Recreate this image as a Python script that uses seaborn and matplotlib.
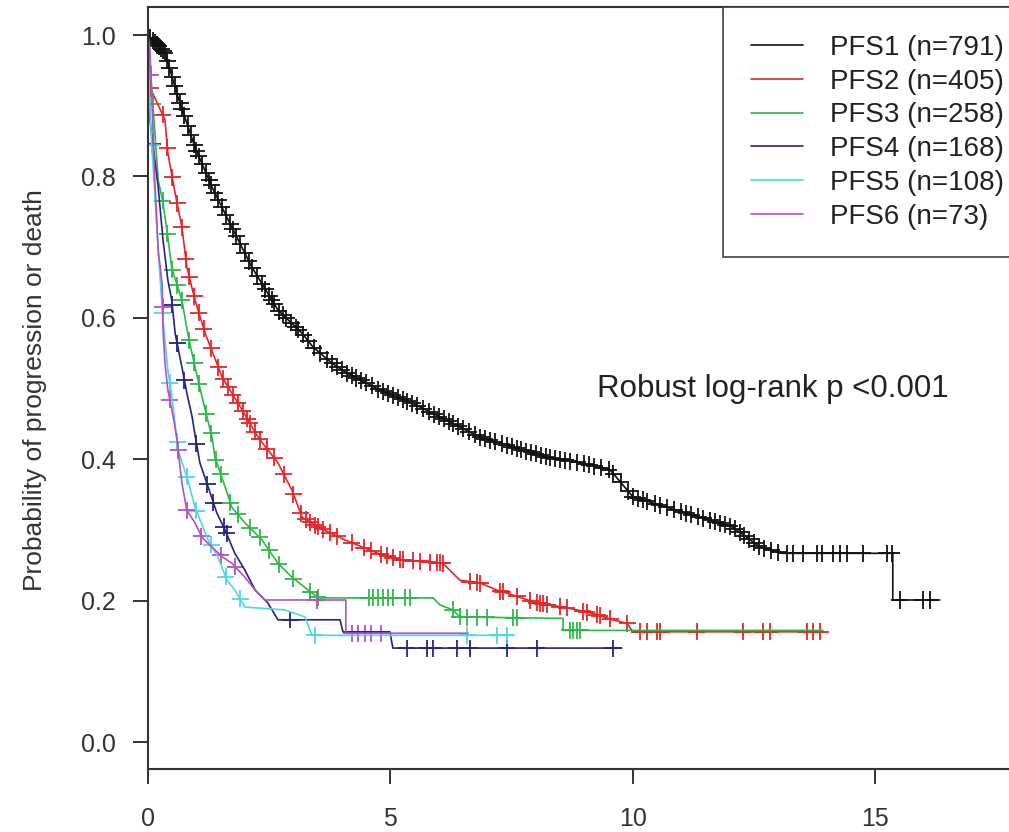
import numpy as np
import pandas as pd
import matplotlib
matplotlib.use("Agg")
import matplotlib.pyplot as plt
import seaborn as sns
from matplotlib.lines import Line2D

# ---------------- data ----------------
labels = ["PFS1 (n=791)", "PFS2 (n=405)", "PFS3 (n=258)",
          "PFS4 (n=168)", "PFS5 (n=108)", "PFS6 (n=73)"]
colors = ["#111111", "#e3262b", "#2db84a", "#25257f", "#4dd6e6", "#b54fc8"]

pfs1_t = [0, 0.35, 0.62, 0.97, 1.32, 1.73, 2.14, 2.68, 3.18, 3.40, 3.79, 4.10, 4.78,
          5.46, 6.16, 6.85, 7.53, 8.23, 8.91, 9.53, 10.0, 10.70, 11.38, 12.06, 12.62,
          13.09, 15.36, 15.36, 16.33]
pfs1_s = [1.0, 0.975, 0.912, 0.841, 0.785, 0.728, 0.672, 0.611, 0.578, 0.559, 0.536,
          0.522, 0.498, 0.479, 0.455, 0.431, 0.417, 0.403, 0.395, 0.385, 0.347, 0.332,
          0.318, 0.304, 0.276, 0.267, 0.267, 0.201, 0.201]

pfs2_t = [0, 0.04, 0.35, 0.41, 0.56, 0.70, 0.80, 0.97, 1.18, 1.53, 1.94, 2.27, 2.68,
          2.97, 3.18, 3.51, 4.06, 4.74, 5.20, 6.08, 6.43, 6.85, 7.20, 8.02, 8.64, 9.18,
          9.59, 9.88, 10.0, 13.92]
pfs2_s = [1.0, 0.926, 0.880, 0.833, 0.776, 0.728, 0.672, 0.625, 0.578, 0.516, 0.470,
          0.431, 0.395, 0.356, 0.318, 0.304, 0.286, 0.267, 0.258, 0.253, 0.229, 0.225,
          0.215, 0.197, 0.190, 0.182, 0.173, 0.168, 0.156, 0.156]

pfs3_t = [0, 0.21, 0.31, 0.41, 0.49, 0.70, 0.82, 0.97, 1.13, 1.32, 1.38, 1.59, 1.73,
          2.0, 2.35, 2.68, 2.97, 3.38, 3.51, 5.88, 6.02, 6.29, 6.43, 8.56, 8.56, 13.92]
pfs3_s = [1.0, 0.795, 0.762, 0.714, 0.670, 0.625, 0.578, 0.530, 0.484, 0.431, 0.403,
          0.361, 0.332, 0.310, 0.286, 0.253, 0.233, 0.211, 0.204, 0.204, 0.194, 0.187,
          0.177, 0.175, 0.158, 0.158]

pfs4_t = [0, 0.04, 0.21, 0.31, 0.41, 0.49, 0.56, 0.70, 0.80, 0.91, 0.97, 1.07, 1.24,
          1.42, 1.59, 1.79, 2.0, 2.21, 2.47, 2.68, 3.96, 4.02, 4.99, 5.05, 9.77]
pfs4_s = [1.0, 0.880, 0.785, 0.710, 0.653, 0.625, 0.578, 0.530, 0.494, 0.460, 0.434,
          0.395, 0.361, 0.324, 0.300, 0.267, 0.243, 0.215, 0.197, 0.173, 0.173, 0.156,
          0.156, 0.133, 0.133]

pfs5_t = [0, 0.04, 0.21, 0.31, 0.41, 0.49, 0.62, 0.82, 0.97, 1.24, 1.44, 1.63, 1.79,
          2.0, 2.82, 3.24, 3.38, 7.53]
pfs5_s = [1.0, 0.890, 0.696, 0.597, 0.526, 0.491, 0.413, 0.371, 0.332, 0.286, 0.262,
          0.229, 0.215, 0.191, 0.187, 0.177, 0.151, 0.151]

pfs6_t = [0, 0.04, 0.08, 0.14, 0.21, 0.29, 0.31, 0.35, 0.41, 0.52, 0.60, 0.62, 0.70,
          0.80, 0.97, 1.11, 1.24, 1.53, 1.73, 2.0, 2.21, 2.41, 4.08, 4.08, 6.60]
pfs6_s = [1.0, 0.979, 0.908, 0.795, 0.696, 0.649, 0.583, 0.536, 0.498, 0.460, 0.427,
          0.413, 0.366, 0.328, 0.310, 0.290, 0.281, 0.262, 0.253, 0.233, 0.215, 0.201,
          0.201, 0.154, 0.154]

# censoring times (tick marks)
cens1 = [0.05, 0.1, 0.14, 0.18, 0.22, 0.27, 0.31, 0.35, 0.4, 0.44, 0.5, 0.55, 0.6, 0.66,
         0.7, 0.75, 0.82, 0.88, 0.95, 1.0, 1.05, 1.12, 1.2, 1.26, 1.3, 1.38, 1.45, 1.52,
         1.6, 1.7, 1.75, 1.82, 1.9, 2.0, 2.08, 2.15, 2.25, 2.35, 2.42, 2.5, 2.55, 2.6,
         2.7, 2.78, 2.85, 2.95, 3.05, 3.1, 3.2, 3.3, 3.42, 3.55, 3.7, 3.8, 3.9, 4.0, 4.1,
         4.2, 4.3, 4.4, 4.5, 4.62, 4.75, 4.85, 4.95, 5.05, 5.15, 5.25, 5.35, 5.45, 5.55,
         5.68, 5.8, 5.9, 6.0, 6.1, 6.2, 6.3, 6.4, 6.5, 6.62, 6.75, 6.85, 6.95, 7.05, 7.15,
         7.3, 7.4, 7.5, 7.6, 7.7, 7.8, 7.9, 8.0, 8.1, 8.2, 8.3, 8.4, 8.5, 8.6, 8.7, 8.85,
         9.0, 9.1, 9.2, 9.35, 9.5, 9.6, 9.75, 9.9, 10.0, 10.1, 10.2, 10.3, 10.45, 10.55,
         10.7, 10.85, 11.0, 11.1, 11.2, 11.35, 11.45, 11.6, 11.7, 11.8, 11.9, 12.0, 12.1,
         12.2, 12.3, 12.4, 12.5, 12.6, 12.7, 12.85, 13.0, 13.18, 13.30, 13.51, 13.79,
         13.90, 14.12, 14.27, 14.41, 14.74, 15.24, 15.34, 15.5, 15.98, 16.12]
cens2 = [0.05, 0.3, 0.4, 0.5, 0.6, 0.7, 0.78, 0.85, 0.95, 1.05, 1.15, 1.3, 1.45, 1.55,
         1.65, 1.75, 1.85, 1.95, 2.05, 2.1, 2.2, 2.3, 2.45, 2.6, 2.8, 3.0, 3.15, 3.25,
         3.35, 3.45, 3.5, 3.6, 3.75, 3.9, 4.2, 4.45, 4.6, 4.8, 4.93, 5.05, 5.20, 5.26,
         5.46, 5.61, 5.81, 5.96, 6.02, 6.08, 6.64, 6.78, 6.85, 7.26, 7.32, 7.61, 7.88,
         8.02, 8.08, 8.14, 8.23, 8.49, 8.64, 8.97, 9.05, 9.26, 9.32, 9.53, 9.88, 10.14,
         10.29, 10.49, 10.56, 11.32, 12.27, 12.68, 12.82, 13.59, 13.71, 13.86]
cens3 = [0.1, 0.3, 0.4, 0.5, 0.6, 0.7, 0.85, 0.95, 1.05, 1.2, 1.3, 1.4, 1.5, 1.7, 1.85,
         2.1, 2.3, 2.5, 2.7, 3.0, 3.35, 3.5, 4.55, 4.65, 4.75, 4.85, 4.95, 5.05, 5.3,
         5.4, 6.29, 6.43, 6.58, 6.78, 6.99, 7.53, 7.61, 8.70, 8.76, 8.85, 8.91]
cens4 = [0.1, 0.5, 0.6, 0.75, 1.0, 1.22, 1.35, 1.56, 1.62, 2.93, 5.34, 5.75, 5.88,
         6.37, 6.64, 7.40, 8.02, 9.59]
cens5 = [0.08, 0.3, 0.45, 0.6, 0.8, 1.0, 1.3, 1.6, 1.9, 3.44, 6.58, 7.20, 7.40]
cens6 = [0.06, 0.3, 0.45, 0.62, 0.8, 1.1, 1.5, 1.8, 3.48, 4.2, 4.33, 4.47, 4.6, 4.8]

x_ticks = [0, 5, 10, 15]
x_ticklabels = ["0", "5", "10", "15"]
y_ticks = [0.0, 0.2, 0.4, 0.6, 0.8, 1.0]
y_ticklabels = ["0.0", "0.2", "0.4", "0.6", "0.8", "1.0"]
y_label = "Probability of progression or death"
annotation = "Robust log-rank p <0.001"

# ---------------- build tables ----------------
curves = [(pfs1_t, pfs1_s), (pfs2_t, pfs2_s), (pfs3_t, pfs3_s),
          (pfs4_t, pfs4_s), (pfs5_t, pfs5_s), (pfs6_t, pfs6_s)]
censors = [cens1, cens2, cens3, cens4, cens5, cens6]

curve_rows = []
cens_rows = []
for lab, (t, s), c in zip(labels, curves, censors):
    for a, b in zip(t, s):
        curve_rows.append((lab, a, b))
    ys = np.interp(c, t, s)
    for a, b in zip(c, ys):
        cens_rows.append((lab, a, b))
curve_df = pd.DataFrame(curve_rows, columns=["group", "time", "surv"])
cens_df = pd.DataFrame(cens_rows, columns=["group", "time", "surv"])

# ---------------- plot ----------------
sns.set_style("ticks")
plt.rcParams["font.family"] = ["Liberation Sans", "DejaVu Sans"]

fig = plt.figure(figsize=(10.09, 8.32), dpi=100)
# the right frame of the original is cropped off, so the axes run past the edge
ax = fig.add_axes([148 / 1009, 63 / 832, 882 / 1009, 762 / 832])

sns.lineplot(data=curve_df, x="time", y="surv", hue="group", hue_order=labels,
             palette=colors, sort=False, estimator=None, linewidth=1.2,
             legend=False, ax=ax)
sns.scatterplot(data=cens_df, x="time", y="surv", hue="group", hue_order=labels,
                palette=colors, marker="+", s=150, linewidth=1.3, legend=False, ax=ax)

ax.set_xlim(0, 18.19)
ax.set_ylim(-0.038, 1.0396)
ax.set_xticks(x_ticks)
ax.set_xticklabels(x_ticklabels)
ax.set_yticks(y_ticks)
ax.set_yticklabels(y_ticklabels)
ax.set_xlabel("")
ax.set_ylabel(y_label, fontsize=19, color="#333333")
ax.yaxis.set_label_coords(-0.114, 0.497)
ax.tick_params(axis="both", direction="out", length=11, width=1.4,
               colors="#333333", labelsize=18)
ax.tick_params(axis="x", pad=16)
ax.tick_params(axis="y", pad=12)
for sp in ax.spines.values():
    sp.set_linewidth(1.5)
    sp.set_color("#333333")

ax.text(9.26, 0.50, annotation, ha="left", va="center", fontsize=22.5, color="#222222")

handles = [Line2D([0], [0], color=c, lw=1.2) for c in colors]
leg = ax.legend(handles, labels, loc="upper left", bbox_to_anchor=((723 - 148) / 882, 1.0),
                borderaxespad=0, fontsize=20, frameon=True, fancybox=False,
                handlelength=1.87, handletextpad=1.0, labelspacing=0.28,
                borderpad=1.0, labelcolor="#222222")
leg.get_frame().set_edgecolor("#333333")
leg.get_frame().set_linewidth(1.4)

fig.savefig("out.png", dpi=100, facecolor="white")
